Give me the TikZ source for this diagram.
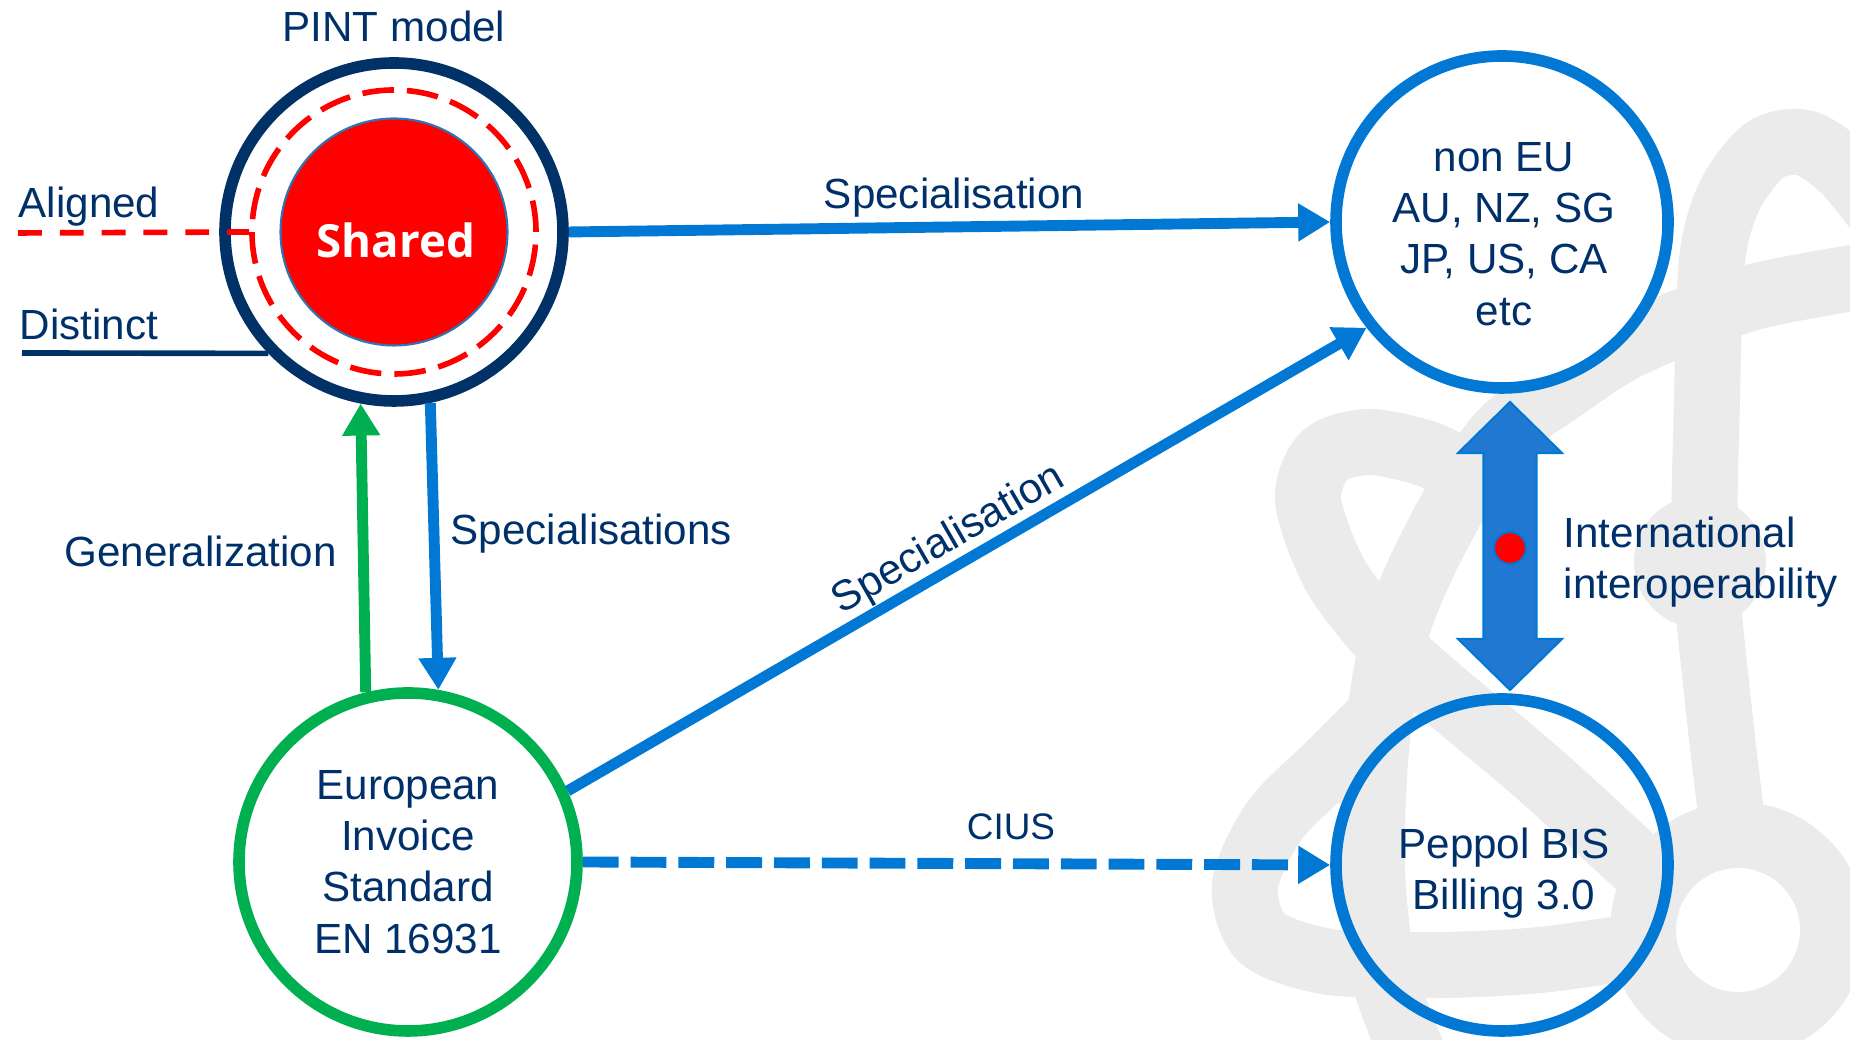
\documentclass[tikz,border=0pt]{standalone}
\usepackage{fontspec}
\setmainfont{Liberation Sans}
\newfontfamily\sharedfont{Open Sans}
\usepackage{tikz}
\usepackage{xcolor}
\usetikzlibrary{shapes.geometric, shapes.arrows, arrows.meta, positioning, calc}

\definecolor{navy}{RGB}{0,48,106}
\definecolor{ringnavy}{RGB}{0,50,104}
\definecolor{linkblue}{RGB}{0,120,212}
\definecolor{blockblue}{RGB}{32,120,210}
\definecolor{eugreen}{RGB}{0,176,80}
\definecolor{sharedrim}{RGB}{46,117,182}
\definecolor{logogray}{RGB}{235,235,235}

\tikzset{
  txt/.style={text=navy, font=\fontsize{12}{14.6}\selectfont, inner sep=0pt},
  orbit/.style={circle, line width=3.3pt, minimum size=3.32cm, inner sep=0pt},
  link/.style={linkblue, line width=3.1pt, -{Triangle[length=0.32cm,width=0.36cm]}},
  logo/.style={draw=logogray, line width=0.66cm},
}

\begin{document}
\begin{tikzpicture}
\useasboundingbox (0,0) rectangle (18.5,10.4);
% Background logo in light grey
\begin{scope}
\clip (0,0) rectangle (18.5,10.4);
\draw[logo] plot[smooth] coordinates {(18.9,7.68) (17.5,7.42) (16.3,6.95) (15.6,6.5) (15.05,6.1) (14.65,5.55) (14.2,4.7) (13.92,3.95) (13.76,2.9) (13.72,1.7) (13.85,0.6) (14.2,-0.3)};
\draw[logo] plot[smooth] coordinates {(16.6,1.55) (15.4,2.65) (14.33,3.55) (13.85,4.0) (13.35,4.65) (13.08,5.4) (13.25,5.85) (13.7,5.98) (14.3,5.85) (14.75,5.6)};
\draw[logo] plot[smooth] coordinates {(13.85,3.3) (13.3,2.75) (12.75,2.2) (12.45,1.55) (12.62,1.02) (13.3,0.78) (14.4,0.75) (15.4,0.8) (16.45,0.95)};
\draw[logo] plot[smooth] coordinates {(17.35,1.95) (17.2,3.2) (17.05,4.8) (17.07,6.4) (17.12,7.8) (17.3,8.45) (17.65,8.9) (18.05,8.97) (18.45,8.7) (18.85,8.2)};
\draw[logo] (17.38,1.10) circle (0.95);
\fill[logogray] (17.0,4.78) circle (0.66);
\end{scope}

% PINT model with its rings
\node[orbit, draw=ringnavy, fill=white, minimum size=3.38cm] (pint) at (3.94,8.08) {};
\node[circle, draw=red, line width=1.6pt, dash pattern=on 9pt off 3.7pt, minimum size=2.84cm, inner sep=0pt] (aligned) at (pint) {};
\node[circle, fill=red, draw=sharedrim, line width=0.6pt, minimum size=2.27cm, inner sep=0pt] (shared) at (pint) {};
\node[text=white, inner sep=0pt, font=\sharedfont\bfseries\fontsize{13}{15}\selectfont] (sharedtxt) at (3.96,8.00) {Shared};

% Other models
\node[orbit, draw=linkblue, fill=white] (noneu) at (15.02,8.18) {};
\node[txt, align=center] (noneutxt) at (15.04,8.06) {non EU\\AU, NZ, SG\\JP, US, CA\\etc};
\node[orbit, draw=linkblue] (peppol) at (15.02,1.75) {};
\node[txt, align=center] (peppoltxt) at (15.04,1.67) {Peppol BIS\\Billing 3.0};
\node[orbit, txt, draw=eugreen, fill=white, minimum size=3.38cm, align=center] (eis) at (4.08,1.78) {European\\Invoice\\Standard\\EN 16931};

% Legend lines
\coordinate (alignstart) at (0.18,8.07);
\coordinate (distinctstart) at (0.22,6.87);
\draw[red, line width=1.6pt, dash pattern=on 6.8pt off 5.1pt] (alignstart) -- (aligned.west);
\draw[ringnavy, line width=1.6pt] (distinctstart) -- (pint.224);

% Relations
\draw[link] (pint.east) -- (noneu.west);
\draw[link] (pint.-78) -- (eis.80);
\draw[link, eugreen] (eis.104) -- (pint.-101);
\draw[link] (eis.24) -- (noneu.218);
\draw[link, dash pattern=on 10.2pt off 3.4pt] (eis.east) -- (peppol.west);

% Interoperability block arrow
\node[double arrow, fill=blockblue, draw=linkblue, line width=0.6pt, rotate=90, minimum height=2.88cm, text height=0.51cm, text depth=0pt, double arrow head extend=0.255cm, double arrow tip angle=91, inner sep=0pt] (interop) at (15.10,4.94) {};
\node[circle, fill=red, draw=linkblue, line width=0.6pt, minimum size=0.32cm, inner sep=0pt] (dot) at (15.10,4.92) {};

% Labels
\node[txt, anchor=base] (pintlbl) at (3.94,9.98) {PINT model};
\node[txt, anchor=base west] (alignedlbl) at (0.18,8.22) {Aligned};
\node[txt, anchor=base west] (distinctlbl) at (0.19,7.00) {Distinct};
\node[txt, anchor=base] (speclbl) at (9.54,8.31) {Specialisation};
\node[txt, anchor=base west] (specslbl) at (4.50,4.95) {Specialisations};
\node[txt, anchor=base west] (genlbl) at (0.64,4.73) {Generalization};
\node[txt, rotate=29.9] (diaglbl) at (9.49,5.00) {Specialisation};
\node[txt, anchor=base, font=\fontsize{10.5}{12}\selectfont] (ciuslbl) at (10.11,2.00) {CIUS};
\node[txt, align=left, anchor=north west] (interoplbl) at (15.63,5.24) {International\\interoperability};
\end{tikzpicture}
\end{document}
